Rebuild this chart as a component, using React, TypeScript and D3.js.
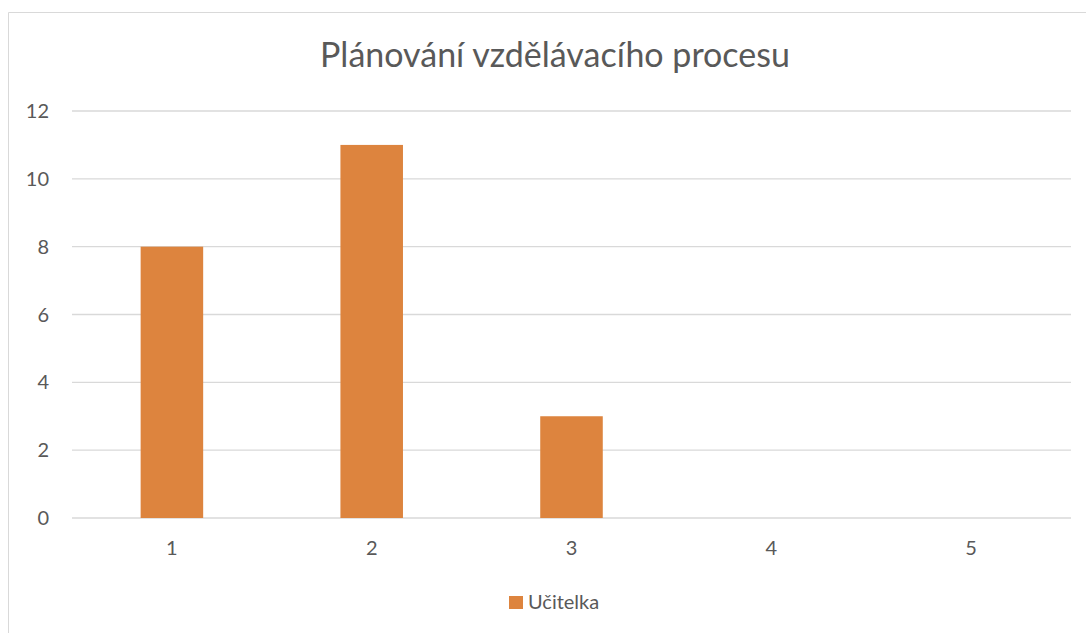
import React from "react";
import * as d3 from "d3";

const categories = ["1", "2", "3", "4", "5"];
const values = [8, 11, 3, 0, 0];
const yTicks = [0, 2, 4, 6, 8, 10, 12];
const seriesName = "Učitelka";
const title = "Plánování vzdělávacího procesu";

export default function App() {
  const W = 1086, H = 633;
  const left = 72, right = 1071, top = 111, bottom = 518;
  const x = d3.scaleBand<string>().domain(categories).range([left, right]).paddingInner(0).paddingOuter(0);
  const y = d3.scaleLinear().domain([0, 12]).range([bottom, top]);
  const barW = x.bandwidth() * 0.313;
  const font = "Lato, 'Open Sans', sans-serif";
  const textColor = "#595959";
  return (
    <svg width={W} height={H} style={{ position: "absolute", left: 0, top: 0 }} fontFamily={font}>
      <rect x={0} y={0} width={W} height={H} fill="#fff" />
      <line x1={8.5} y1={12.5} x2={W} y2={12.5} stroke="#D9D9D9" />
      <line x1={8.5} y1={12.5} x2={8.5} y2={H} stroke="#D9D9D9" />
      <text x={555} y={67} textAnchor="middle" fontSize={34} fill={textColor}>{title}</text>
      {yTicks.map((t) => (
        <g key={t}>
          <line x1={left} x2={right} y1={y(t)} y2={y(t)} stroke="#D9D9D9" strokeWidth={1.3} />
          <text x={49} y={y(t) + 7} textAnchor="end" fontSize={20} fill={textColor}>{t}</text>
        </g>
      ))}
      {categories.map((c, i) => (
        <g key={c}>
          {values[i] > 0 && (
            <rect
              x={(x(c) as number) + x.bandwidth() / 2 - barW / 2}
              y={y(values[i])}
              width={barW}
              height={y(0) - y(values[i])}
              fill="#DD843E"
            />
          )}
          <text x={(x(c) as number) + x.bandwidth() / 2} y={555} textAnchor="middle" fontSize={20} fill={textColor}>{c}</text>
        </g>
      ))}
      <rect x={509} y={596} width={14} height={13} fill="#DD843E" />
      <text x={528} y={609} fontSize={20} fill={textColor}>{seriesName}</text>
    </svg>
  );
}
